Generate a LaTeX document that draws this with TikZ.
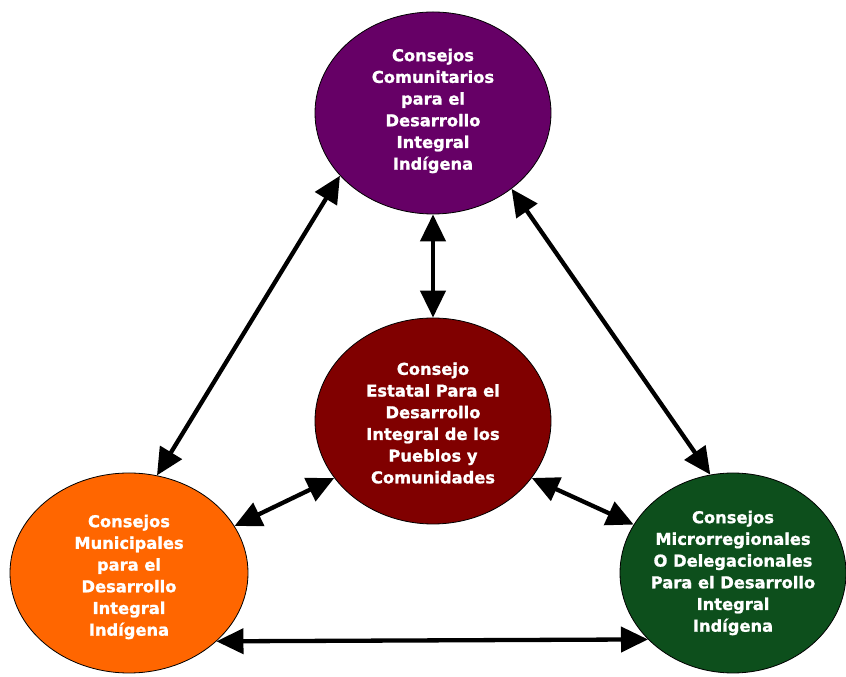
\documentclass[tikz,border=0pt]{standalone}
\usepackage{fontspec}
\setmainfont{DejaVu Sans}[BoldFeatures={FakeBold=1.2}]
\usetikzlibrary{shapes.geometric,arrows.meta}
\definecolor{cpurple}{HTML}{660066}
\definecolor{cred}{HTML}{800000}
\definecolor{corange}{HTML}{FF6600}
\definecolor{cgreen}{HTML}{0D4F1C}
\begin{document}
\begin{tikzpicture}[x=1pt,y=1pt,
  oval/.style={ellipse, draw=black, line width=0.8pt, inner sep=0pt},
  lbl/.style={align=center, text=white, font=\bfseries\fontsize{16.3}{21.7}\selectfont, inner sep=0pt},
  link/.style={line width=4.3pt, {Triangle[length=27pt,width=25pt]}-{Triangle[length=27pt,width=25pt]}}]
\useasboundingbox (0,0) rectangle (846,677);
\node[oval, fill=cpurple, minimum width=236pt, minimum height=202pt] (T) at (433,564) {};
\node[oval, fill=cred, minimum width=236pt, minimum height=206pt] (C) at (433,256) {};
\node[oval, fill=corange, minimum width=238pt, minimum height=200pt] (BL) at (129,104) {};
\node[oval, fill=cgreen, minimum width=226pt, minimum height=200pt] (BR) at (733,104) {};
\node[lbl] (Tt) at ([yshift=2pt]T.center) {Consejos\\Comunitarios\\para el\\Desarrollo\\Integral\\Indígena};
\node[lbl] (Ct) at ([yshift=-2pt]C.center) {Consejo\\Estatal Para el\\Desarrollo\\Integral de los\\Pueblos y\\Comunidades};
\node[lbl] (BLt) at ([yshift=-4pt]BL.center) {Consejos\\Municipales\\para el\\Desarrollo\\Integral\\Indígena};
\node[lbl] (BRt) at (BR.center) {Consejos\\Microrregionales\\O Delegacionales\\Para el Desarrollo\\Integral\\Indígena};
\draw[link] (T.214) -- (BL.74);
\draw[link] (T.316) -- (BR.103.5);
\draw[link] (T.270) -- (C.90);
\draw[link] (C.210) -- (BL.24);
\draw[link] (C.330) -- (BR.154);
\draw[link] (BL.322.5) -- (BR.218.5);
\end{tikzpicture}
\end{document}
